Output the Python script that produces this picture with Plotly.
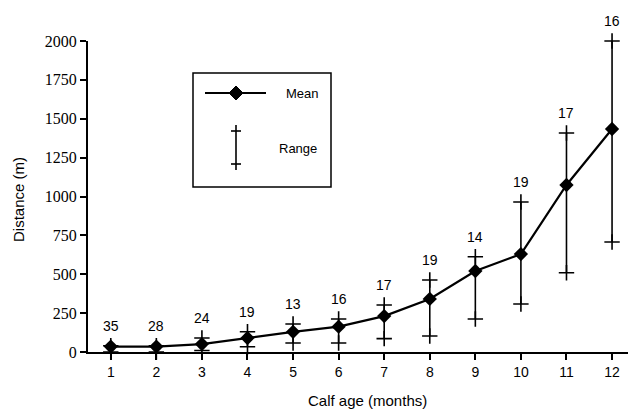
import plotly.graph_objects as go

ages = [1, 2, 3, 4, 5, 6, 7, 8, 9, 10, 11, 12]
mean_dist = [35, 35, 51, 90, 130, 163, 231, 341, 521, 630, 1074, 1434]
range_min = [0, 0, 10, 34, 58, 58, 86, 103, 212, 309, 510, 707]
range_max = [40, 40, 90, 130, 180, 212, 302, 463, 613, 965, 1408, 2000]
n_calves = [35, 28, 24, 19, 13, 16, 17, 19, 14, 19, 17, 16]
y_ticks = [0, 250, 500, 750, 1000, 1250, 1500, 1750, 2000]

fig = go.Figure()

# Range bars
fig.add_trace(go.Scatter(
    x=ages, y=range_min, mode="markers",
    marker=dict(symbol="line-ns", size=0.1, color="black", opacity=0),
    error_y=dict(type="data", symmetric=False,
                 array=[mx - mn for mx, mn in zip(range_max, range_min)],
                 arrayminus=[0] * len(ages),
                 color="black", thickness=1.6, width=0),
    showlegend=False, hoverinfo="skip", cliponaxis=False))
fig.add_trace(go.Scatter(
    x=ages + ages, y=range_min + range_max, mode="markers",
    marker=dict(symbol="cross-thin", size=11, color="black",
                line=dict(color="black", width=1.6)),
    showlegend=False, hoverinfo="skip", cliponaxis=False))

# Mean line
fig.add_trace(go.Scatter(
    x=ages, y=mean_dist, mode="lines+markers",
    line=dict(color="black", width=2.2),
    marker=dict(symbol="diamond", size=11, color="black"),
    showlegend=False, cliponaxis=False))

# Count labels
for a, mx, n in zip(ages, range_max, n_calves):
    fig.add_annotation(x=a, y=mx, text=str(n), showarrow=False, yshift=20,
                       xanchor="center", yanchor="middle",
                       font=dict(family="Liberation Sans", size=14, color="black"))

# Legend box (drawn manually)
def px(x):
    return (x - 88) / 540

def py(y):
    return (352 - y) / 311

fig.add_shape(type="rect", xref="paper", yref="paper",
              x0=px(193), x1=px(331), y0=py(187), y1=py(73),
              line=dict(color="black", width=1.5))
fig.add_shape(type="line", xref="paper", yref="paper",
              x0=px(205), x1=px(266), y0=py(93), y1=py(93),
              line=dict(color="black", width=2))
fig.add_shape(type="path", xref="paper", yref="paper",
              path=f"M {px(229)} {py(93)} L {px(236)} {py(86)} L {px(243)} {py(93)} L {px(236)} {py(100)} Z",
              fillcolor="black", line=dict(color="black", width=1))
fig.add_annotation(xref="paper", yref="paper", x=px(284), y=py(93), text="Mean",
                   showarrow=False, xanchor="left", yanchor="middle",
                   font=dict(family="Liberation Sans", size=13, color="black"))
fig.add_shape(type="line", xref="paper", yref="paper",
              x0=px(236), x1=px(236), y0=py(125), y1=py(170),
              line=dict(color="black", width=1.6))
for yy in (131, 164):
    fig.add_shape(type="line", xref="paper", yref="paper",
                  x0=px(231), x1=px(241), y0=py(yy), y1=py(yy),
                  line=dict(color="black", width=1.6))
fig.add_annotation(xref="paper", yref="paper", x=px(277), y=py(148), text="Range",
                   showarrow=False, xanchor="left", yanchor="middle",
                   font=dict(family="Liberation Sans", size=13, color="black"))

# Axis titles
fig.add_annotation(xref="paper", yref="paper", x=px(367), y=py(400),
                   text="Calf age (months)", showarrow=False,
                   xanchor="center", yanchor="middle",
                   font=dict(family="Liberation Sans", size=15, color="black"))
fig.add_annotation(xref="paper", yref="paper", x=px(18), y=py(200),
                   text="Distance (m)", showarrow=False, textangle=-90,
                   xanchor="center", yanchor="middle",
                   font=dict(family="Liberation Sans", size=15, color="black"))

fig.update_layout(
    width=630, height=414,
    margin=dict(l=88, r=2, t=41, b=62),
    paper_bgcolor="white", plot_bgcolor="white",
    xaxis=dict(range=[0.5, 12.35], tickvals=ages, ticks="outside", ticklen=6,
               tickwidth=1.5, tickcolor="black", showline=True, linecolor="black",
               linewidth=2, showgrid=False, zeroline=False,
               tickfont=dict(family="Liberation Sans", size=14, color="black")),
    yaxis=dict(range=[0, 2000], tickvals=y_ticks, ticks="outside", ticklen=6,
               tickwidth=1.5, tickcolor="black", showline=True, linecolor="black",
               linewidth=2, showgrid=False, zeroline=False,
               tickfont=dict(family="Liberation Serif", size=16, color="black")),
)

fig.write_html("out.html", config={"displayModeBar": False},
               post_script="document.body.style.margin='0';document.body.style.padding='0';")
